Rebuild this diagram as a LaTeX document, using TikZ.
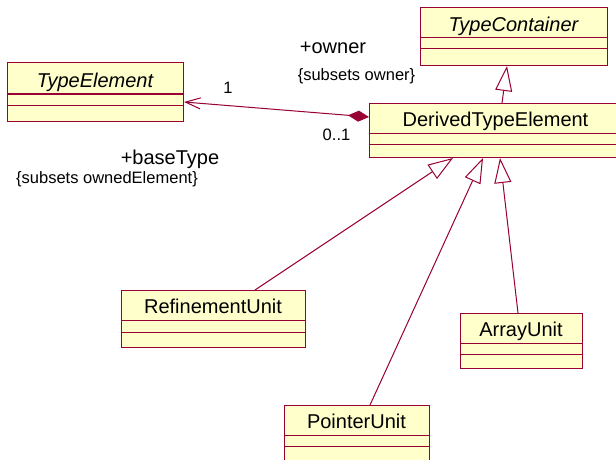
\documentclass[tikz,border=0pt]{standalone}
\usepackage{fontspec}
\setmainfont{Liberation Sans}
\usetikzlibrary{arrows.meta,calc}

\definecolor{umlline}{RGB}{153,0,51}
\definecolor{umlfill}{RGB}{255,255,204}

\tikzset{
  classbox/.style={draw=umlline, fill=umlfill, line width=1pt, inner sep=0pt, rectangle},
  classline/.style={draw=umlline, line width=1pt},
  classname/.style={font=\fontsize{20}{24}\selectfont, inner sep=0pt, anchor=base},
  biglbl/.style={font=\fontsize{20}{24}\selectfont, inner sep=0pt},
  smalllbl/.style={font=\fontsize{16.5}{20}\selectfont, inner sep=0pt},
  conn/.style={draw=umlline, line width=1pt},
  inherit/.style={conn, -{Triangle[open, length=25pt, width=17pt, fill=white, line width=1pt]}},
  composite/.style={conn, {Straight Barb[length=15pt, width=11pt, line width=1pt]}-{Diamond[length=21pt, width=11pt]}},
}

% UML class box: name, x1, y1, x2, y2, first separator, second separator, title
\newcommand\umlclass[8]{%
  \node[classbox, anchor=north west,
        minimum width={(#4-#2)*1pt}, minimum height={(#5-#3)*1pt}] (#1) at (#2,#3) {};
  \draw[classline] (#2,#6) -- (#4,#6) (#2,#7) -- (#4,#7);
  \node[classname] (#1-name) at ({(#2+#4)/2},{#6-6.5}) {#8};
}

\begin{document}
\begin{tikzpicture}[x=1pt, y=-1pt]
  \useasboundingbox (0,0) rectangle (616,460);
  \clip (0,0) rectangle (616,460);
  \fill[white] (0,0) rectangle (616,460);

  % classes
  \umlclass{te}{7}{62}{183}{121}{94}{105}{\itshape TypeElement}
  \umlclass{tc}{420}{7}{607}{65}{38}{49}{\itshape TypeContainer}
  \umlclass{de}{369}{103}{622}{157}{133}{144}{DerivedTypeElement}
  \umlclass{ru}{121}{290}{305}{347}{320}{332}{RefinementUnit}
  \umlclass{au}{460}{313}{582}{368}{343}{354}{ArrayUnit}
  \umlclass{pu}{284}{405}{429}{480}{435}{446}{PointerUnit}

  % composition between TypeElement and DerivedTypeElement
  \draw[composite] ($(te.north east)+(0,40)$) -- ($(de.north west)+(0,14)$);

  % generalizations
  \draw[inherit] ($(de.north west)+(133,0)$) -- ($(tc.south west)+(87,0)$);
  \draw[inherit] ($(ru.north west)+(134,0)$) -- ($(de.south west)+(84,0)$);
  \draw[inherit] ($(pu.north west)+(86,0)$) -- ($(de.south west)+(114,0)$);
  \draw[inherit] ($(au.north west)+(58,0)$) -- ($(de.south west)+(131,0)$);

  % association end labels
  \node[smalllbl] (m1) at (228,88) {1};
  \node[biglbl] (owner) at (333,48) {+owner};
  \node[smalllbl] (ownersub) at (356.5,76) {\{subsets owner\}};
  \node[smalllbl] (m01) at (336.5,135) {0..1};
  \node[biglbl] (basetype) at (170,159) {+baseType};
  \node[smalllbl] (basesub) at (107,179) {\{subsets ownedElement\}};
\end{tikzpicture}
\end{document}
